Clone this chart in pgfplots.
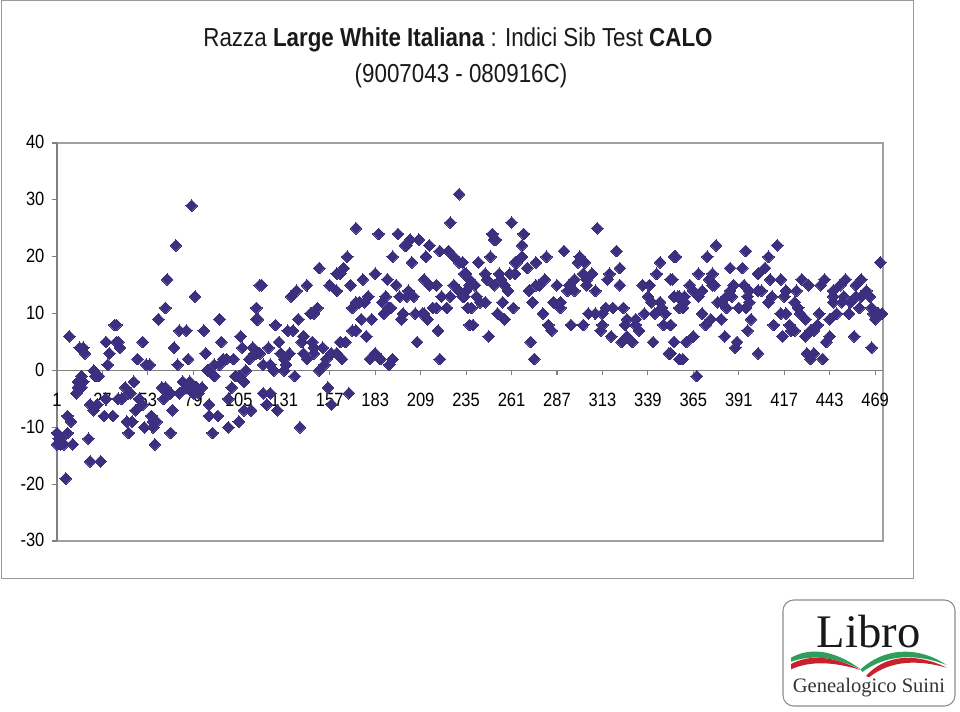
\documentclass[border=0pt]{standalone}
\usepackage{fontspec}
\setmainfont[FakeStretch=0.86]{Liberation Sans}
\newfontfamily\logofont{Liberation Serif}
\usepackage{pgfplots}
\pgfplotsset{compat=1.18}
\pgfplotsset{layers/labelsontop/.define layer set={axis background,axis grid,axis ticks,axis lines,main,axis tick labels,axis descriptions,axis foreground}{}}
\definecolor{pts}{HTML}{3C2F80}
\definecolor{axisgray}{HTML}{808080}
\definecolor{bordergray}{HTML}{A3A19C}
\definecolor{framegray}{HTML}{9A9A9A}
\definecolor{logogreen}{HTML}{2E9E5B}
\definecolor{logored}{HTML}{C8202C}
\begin{document}
\begin{tikzpicture}
% page size, 960x711 px at 0.75pt
\path (0,0) rectangle (720pt,533.25pt);
\begin{scope}[x=0.75pt,y=-0.75pt,yshift=533.25pt]
\draw[framegray,line width=0.75pt] (1,1) rectangle (913,578);
\node[anchor=base,font=\fontsize{19.5}{23}\selectfont,text=black!90] at (458,47) {Razza \textbf{Large White Italiana} : Indici Sib Test \textbf{CALO}};
\node[anchor=base,font=\fontsize{19.5}{23}\selectfont,text=black!90] at (461,83) {(9007043 - 080916C)};
\end{scope}
\begin{axis}[
	set layers=labelsontop,
	at={(42.75pt,127.5pt)},
	anchor=south west,
	scale only axis,
	width=619.5pt,
	height=298.5pt,
	xmin=1, xmax=473.5,
	ymin=-30, ymax=40,
	axis x line=middle,
	axis y line=left,
	axis line style={-,axisgray,line width=0.8pt},
	tick style={axisgray,line width=0.8pt},
	tick align=outside,
	major tick length=3.5pt,
	hide obscured x ticks=false,
	typeset ticklabels with strut,
	xtick={1,27,53,79,105,131,157,183,209,235,261,287,313,339,365,391,417,443,469},
	ytick={-30,-20,-10,0,10,20,30,40},
	/pgf/number format/assume math mode=true,
	tick label style={font=\fontsize{14.4}{16}\selectfont,text=black},
	xticklabel style={yshift=-8.5pt},
	yticklabel style={xshift=-2.4pt,yshift=-1.2pt},
	clip=false,
]
\pgfonlayer{axis lines}
\draw[bordergray,line width=1pt] (axis cs:1,40) -- (axis cs:473.5,40) -- (axis cs:473.5,-30) -- (axis cs:1,-30);
\endpgfonlayer
\addplot[only marks,mark=diamond*,mark size=4.4pt,mark options={xscale=1.33,fill=pts,draw=pts,line width=0pt}] coordinates {
(78,29) (69,22) (64,16) (80,13) (63,11) (59,9) (94,9) (115,11) (115,9) (117,15) (34,8) (35,8) (8,6) (71,7) (75,7) (85,7)
(29,5) (35,5) (36,5) (37,4) (14,4) (16,4) (17,3) (50,5) (68,4) (95,5) (106,6) (107,4) (31,3) (47,2) (76,2) (86,3) (113,4) (114,3) (111,2)
(30,1) (52,1) (54,1) (70,1) (91,1) (94,1) (96,2) (98,2) (102,2) (22,0) (87,0) (109,0) (23,-1) (25,-1) (15,-1) (91,-1) (103,-1) (105,-1)
(13,-2) (16,-2) (45,-2) (73,-2) (108,-2) (77,-2) (15,-3) (40,-3) (61,-3) (75,-3) (78,-3) (81,-3) (84,-3) (101,-3) (13,-3) (63,-3)
(12,-4) (42,-4) (43,-4) (66,-4) (71,-4) (79,-4) (82,-4) (64,-4) (36,-5) (38,-5) (48,-5) (62,-5) (99,-5) (29,-5)
(20,-6) (50,-6) (88,-6) (24,-6) (22,-7) (46,-7) (67,-7) (108,-7) (112,-7) (7,-8) (28,-8) (33,-8) (55,-8) (88,-8) (93,-8)
(9,-9) (41,-9) (44,-9) (56,-9) (58,-9) (105,-9) (51,-10) (56,-10) (99,-10) (1,-11) (7,-11) (42,-11) (66,-11) (90,-11)
(19,-12) (2,-12) (3,-12) (1,-13) (3,-13) (5,-13) (10,-13) (57,-13) (20,-16) (26,-16) (6,-19)
(231,31) (226,26) (172,25) (185,24) (196,24) (208,23) (203,23) (201,22) (200,22) (214,22)
(167,20) (193,20) (212,20) (220,21) (225,21) (228,20) (231,19) (233,19) (204,19) (151,18) (165,18) (163,17) (161,17) (183,17) (235,17)
(176,16) (190,16) (211,16) (118,15) (144,15) (157,15) (169,15) (195,15) (214,15) (218,15) (228,15) (237,15)
(138,14) (161,14) (135,13) (179,13) (202,14) (231,14) (177,12) (174,12) (189,13) (187,12) (197,13) (201,13) (205,13) (221,13) (226,13) (233,13)
(170,11) (172,12) (150,11) (148,10) (146,10) (192,11) (191,11) (216,11) (218,11) (224,11) (236,11)
(116,9) (139,9) (175,9) (181,9) (188,10) (199,10) (206,10) (210,10) (211,10) (213,9) (198,9) (126,8) (237,8)
(133,7) (136,7) (170,7) (172,7) (219,7) (142,6) (178,6) (128,5) (141,5) (163,5) (166,5) (207,5) (147,5)
(122,4) (113,4) (148,4) (153,4) (115,3) (117,3) (129,3) (134,3) (142,3) (148,3) (158,3) (161,3) (183,3)
(144,2) (131,2) (180,2) (186,2) (193,2) (220,2) (164,2) (155,2) (119,1) (132,1) (123,1) (154,1) (191,1) (125,0) (131,0) (151,0)
(137,-1) (156,-3) (168,-4) (119,-4) (123,-4) (121,-6) (158,-6) (127,-7) (112,-7) (140,-10)
(261,26) (310,25) (250,24) (268,24) (251,23) (252,23) (267,22) (321,21) (291,21) (300,20) (281,20) (249,20) (354,20) (346,19) (233,19) (242,19) (275,19) (264,19) (267,20) (299,19) (303,19) (263,19)
(270,18) (323,18) (234,17) (246,17) (254,17) (260,17) (263,17) (307,17) (317,17) (344,17) (302,17)
(237,16) (247,16) (255,16) (280,16) (297,16) (304,16) (316,16) (352,16)
(240,15) (251,15) (257,15) (277,15) (287,15) (304,15) (323,15) (336,15) (340,15) (275,15) (294,15)
(259,14) (297,14) (271,14) (293,14) (309,14) (235,14) (234,13) (241,13) (339,13) (354,13) (356,13)
(243,12) (246,12) (256,12) (273,12) (285,12) (289,12) (341,12) (346,12) (357,11) (238,11) (262,11) (289,11) (315,11) (319,11) (325,11) (347,11)
(253,10) (279,10) (305,10) (309,10) (313,10) (337,10) (343,10) (349,10) (327,9) (332,9) (257,9)
(282,8) (295,8) (302,8) (239,8) (313,8) (326,8) (332,8) (348,8) (352,8) (284,7) (312,7) (334,7) (327,6) (318,6) (248,6)
(324,5) (330,5) (272,5) (342,5) (354,5) (351,3) (274,2) (357,2)
(378,22) (413,22) (395,21) (408,20) (355,20) (373,20) (472,19) (386,18) (393,18) (406,18) (368,17) (376,17) (402,17)
(353,16) (374,16) (409,16) (415,16) (427,16) (440,16) (452,16) (461,16) (363,15) (376,15) (431,15) (438,15) (388,15) (394,15) (377,15) (449,15) (458,15)
(370,14) (365,14) (418,14) (424,14) (386,14) (397,14) (402,14) (404,14) (445,14) (464,14)
(354,13) (357,13) (368,13) (417,13) (384,13) (410,13) (451,13) (461,13) (466,13) (360,13) (396,13) (458,13) (445,13)
(359,11) (360,12) (379,12) (381,12) (387,13) (408,12) (423,12) (397,12) (445,12) (450,12) (455,12)
(384,11) (391,11) (395,11) (425,11) (460,11) (467,11) (370,10) (415,10) (418,10) (447,10) (454,10) (437,10) (468,10) (471,10) (473,10) (426,10)
(375,9) (381,9) (398,9) (429,9) (443,9) (469,9) (372,8) (411,8) (420,8) (352,8) (436,8)
(396,7) (421,7) (423,7) (434,7) (432,7) (365,6) (383,6) (416,6) (429,6) (443,6) (457,6)
(361,5) (354,5) (390,5) (441,5) (467,4) (389,4) (402,3) (430,3) (434,3) (352,3) (359,2) (432,2) (439,2) (367,-1)
};
\end{axis}
\begin{scope}[x=0.75pt,y=-0.75pt,yshift=533.25pt]
% logo
\draw[black!45,line width=0.8pt,rounded corners=8pt] (783,600) rectangle (955,706);
\node[anchor=base,font=\logofont\fontsize{35}{40}\selectfont,text=black!90] at (868.5,647) {Libro};
\node[anchor=base,font=\logofont\fontsize{15.4}{18}\selectfont,text=black!80] at (869,692) {Genealogico Suini};
\begin{scope}[shift={(770,590)},scale=1/3]
\fill[logogreen] (63,203) .. controls (120,172) and (190,178) .. (272,238) .. controls (190,198) and (120,195) .. (63,215) -- cycle;
\fill[logored] (63,222) .. controls (120,192) and (190,198) .. (272,240) .. controls (190,215) and (120,212) .. (63,238) -- cycle;
\fill[logogreen] (272,238) .. controls (340,175) and (440,165) .. (530,225) .. controls (440,190) and (350,192) .. (277,246) -- cycle;
\fill[logored] (288,258) .. controls (345,193) and (440,188) .. (530,233) .. controls (440,208) and (360,212) .. (297,262) -- cycle;
\end{scope}
\end{scope}
\end{tikzpicture}
\end{document}
